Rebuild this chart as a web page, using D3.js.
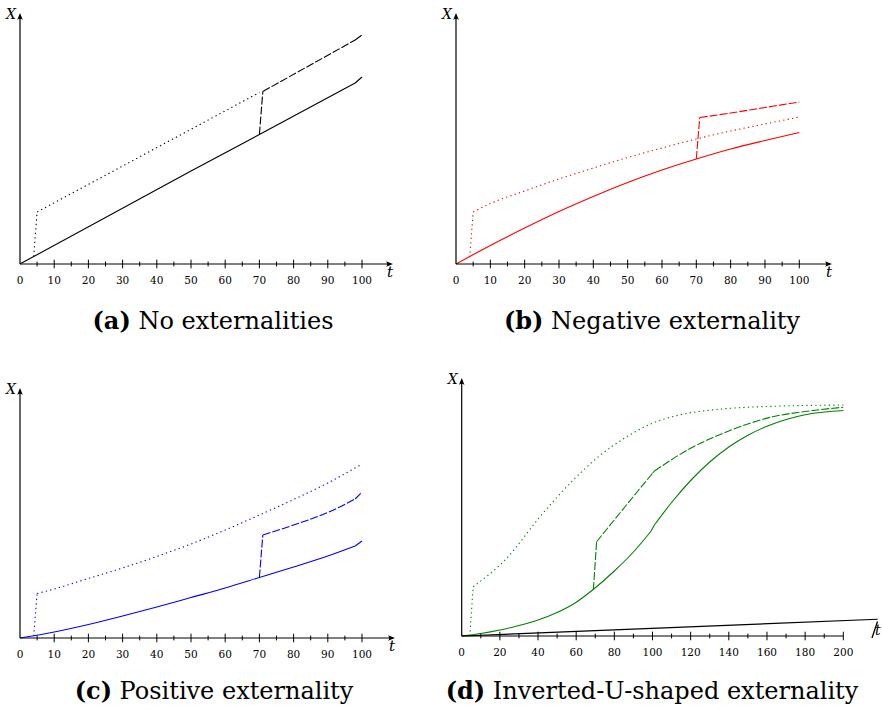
<!DOCTYPE html>
<html>
<head>
<meta charset="UTF-8">
<style>
  body { margin: 0; background: #fff; }
  svg { display: block; }
  .num { font-family: "DejaVu Serif", serif; font-size: 10.5px; }
  .var { font-family: "DejaVu Serif", serif; font-style: italic; }
  .cap { font-family: "DejaVu Serif", serif; font-size: 24px; }
</style>
</head>
<body>
<svg id="fig" width="883" height="710"></svg>
<script src="https://d3js.org/d3.v7.min.js"></script>
<script>
// [t, X] pairs, X in arbitrary units
const noExtSolid  = [[0,0],[50,37.2],[70,51.8],[98,72.4],[100,74.8]];
const noExtDotted = [[4,3],[5,20.8],[70,68.6]];
const noExtDashed = [[70,51.8],[71,69],[98,89.6],[100,91.6]];

const negSolid  = [[0,0],[10,7.4],[20,14.4],[30,21],[40,27],[50,32.6],[60,37.6],[70,42],[80,46],[90,49.4],[100,52.6]];
const negDotted = [[4,2.8],[5,20.8],[10,24.2],[20,29.2],[30,34],[40,38.4],[50,42.6],[60,46.4],[70,50],[80,53.2],[90,56],[100,58.8]];
const negDashed = [[70,42],[71,58.6],[80,60.4],[90,62.6],[100,64.8]];

const posSolid  = [[0,0],[10,2.4],[20,5.4],[30,8.8],[40,12.4],[50,16.2],[60,20],[70,24.2],[80,28.4],[90,32.8],[98,36.8],[100,38.8]];
const posDotted = [[4,0.8],[5,17.8],[10,19.6],[20,23.8],[30,28],[40,32.6],[50,37.6],[60,43.2],[70,49.2],[80,55.4],[90,62],[100,69.6]];
const posDashed = [[70,24.2],[71,41.2],[80,45.2],[90,50.2],[98,55.6],[100,58.4]];

const invSolid  = [[0,0],[10,1],[20,2.4],[30,4.2],[40,6.4],[50,9.4],[59,13],[68.6,18.4],[80,26],[90,33.6],[99,41.7],[101,44.4],[110,53.4],[120,62.2],[130,69.6],[140,75.6],[150,80.3],[160,83.9],[170,86.6],[180,88.5],[190,89.6],[200,90.2]];
const invDotted = [[4.4,1.8],[6,19.7],[23.6,31.1],[41,47.7],[58.5,62.4],[70.7,71.1],[86.5,79.7],[100,85.1],[114,88.4],[135,90.7],[164,91.9],[200,92.4]];
const invDashed = [[69,18.4],[70.7,37.7],[85.6,51.7],[100,65.1],[101,66],[120,75.1],[139,81.7],[163,87.7],[180,89.8],[200,91.5]];
const invTrend  = [[0,0],[218,6.7]];

const letters = ["(a)", "(b)", "(c)", "(d)"];
const titles  = ["No externalities", "Negative externality", "Positive externality", "Inverted-U-shaped externality"];
const colors  = ["black", "red", "blue", "green"];
const tMaxes  = [100, 100, 100, 200];

const panels = [
  {left: 20,    right: 362,   base: 264, top: 13,  arrowX: 393, tcx: 213, tby: 329, major: 10, minor: 5,
   solid: noExtSolid, dotted: noExtDotted, dashed: noExtDashed},
  {left: 456,   right: 799.3, base: 264, top: 13,  arrowX: 832, tcx: 652, tby: 329, major: 10, minor: 5,
   solid: negSolid, dotted: negDotted, dashed: negDashed},
  {left: 20,    right: 362,   base: 638, top: 388, arrowX: 395, tcx: 214, tby: 699, major: 10, minor: 5,
   solid: posSolid, dotted: posDotted, dashed: posDashed},
  {left: 461.7, right: 843.3, base: 636, top: 378, arrowX: null, tcx: 652, tby: 699, major: 20, minor: 10,
   solid: invSolid, dotted: invDotted, dashed: invDashed, extra: invTrend}
];

const svg = d3.select("#fig");

function arrowRight(x, y) {
  return "M" + x + "," + y + "L" + (x - 7) + "," + (y - 2.8) + "Q" + (x - 4.5) + "," + y + " " + (x - 7) + "," + (y + 2.8) + "Z";
}
function arrowUp(x, y) {
  return "M" + x + "," + y + "L" + (x - 2.8) + "," + (y + 7) + "Q" + x + "," + (y + 4.5) + " " + (x + 2.8) + "," + (y + 7) + "Z";
}

// split a series so jumps (short t steps) are straight and the rest is smooth
function pieces(data) {
  let out = [], cur = [data[0]];
  for (let k = 1; k < data.length; k++) {
    const dt = data[k][0] - data[k - 1][0];
    if (dt <= 2) {
      if (cur.length > 1) out.push(cur);
      out.push([data[k - 1], data[k]]);
      cur = [data[k]];
    } else {
      cur.push(data[k]);
    }
  }
  if (cur.length > 1) out.push(cur);
  return out;
}

panels.forEach((p, i) => {
  const tMax = tMaxes[i];
  const x = d3.scaleLinear().domain([0, tMax]).range([p.left, p.right]);
  const y = d3.scaleLinear().domain([0, 100]).range([p.base, p.base - 250]);
  const g = svg.append("g");

  const smooth = d3.line().x(d => x(d[0])).y(d => y(d[1])).curve(d3.curveMonotoneX);
  const straight = d3.line().x(d => x(d[0])).y(d => y(d[1]));

  const styles = [
    {data: p.dotted, dash: "1.3,3.2"},
    {data: p.dashed, dash: "8,2"},
    {data: p.solid,  dash: null}
  ];
  styles.forEach(s => {
    const d = pieces(s.data).map(pc => pc.length > 2 ? smooth(pc) : straight(pc)).join("");
    g.append("path")
      .attr("d", d)
      .attr("fill", "none")
      .attr("stroke", colors[i])
      .attr("stroke-width", 1.1)
      .attr("stroke-dasharray", s.dash);
  });
  if (p.extra) {
    g.append("path")
      .datum(p.extra)
      .attr("d", straight)
      .attr("fill", "none")
      .attr("stroke", "black")
      .attr("stroke-width", 1.2);
  }

  // axes
  const xEnd = p.arrowX ? p.arrowX - 2 : p.right;
  g.append("line")
    .attr("x1", p.left).attr("x2", xEnd)
    .attr("y1", p.base).attr("y2", p.base)
    .attr("stroke", "black").attr("stroke-width", 1.2);
  g.append("line")
    .attr("x1", p.left).attr("x2", p.left)
    .attr("y1", p.base).attr("y2", p.top + 2)
    .attr("stroke", "black").attr("stroke-width", 1.2);
  g.append("path").attr("d", arrowUp(p.left, p.top)).attr("fill", "black");
  if (p.arrowX) {
    g.append("path").attr("d", arrowRight(p.arrowX, p.base)).attr("fill", "black");
  } else {
    // odd slanted arrow tip at the end of the trend line
    g.append("line")
      .attr("x1", 872).attr("y1", 638).attr("x2", 877.5).attr("y2", 621.5)
      .attr("stroke", "black").attr("stroke-width", 1.3);
  }

  // ticks
  const minorT = d3.range(p.minor, tMax + 0.01, p.minor);
  g.selectAll(".tk").data(minorT).enter().append("line")
    .attr("x1", d => x(d)).attr("x2", d => x(d))
    .attr("y1", d => p.base - (d % p.major === 0 ? 4.3 : 2.4))
    .attr("y2", d => p.base + (d % p.major === 0 ? 4.3 : 2.4))
    .attr("stroke", "black").attr("stroke-width", 1);

  g.selectAll(".lbl").data(d3.range(0, tMax + 0.01, p.major)).enter().append("text")
    .attr("class", "num")
    .attr("x", d => x(d))
    .attr("y", p.base + 20)
    .attr("text-anchor", "middle")
    .text(d => d);

  // axis names
  g.append("text")
    .attr("class", "var")
    .attr("x", p.left - 14).attr("y", p.top + 6)
    .style("font-size", "14px")
    .text("X");
  const tX = p.arrowX ? p.arrowX - 6 : 875;
  g.append("text")
    .attr("class", "var")
    .attr("x", tX).attr("y", p.arrowX ? p.base + 13 : p.base - 1)
    .style("font-size", p.arrowX ? "15px" : "14px")
    .text("t");

  // caption
  const cap = g.append("text")
    .attr("class", "cap")
    .attr("x", p.tcx).attr("y", p.tby)
    .attr("text-anchor", "middle");
  cap.append("tspan").attr("font-weight", "bold").text(letters[i]);
  cap.append("tspan").text(" " + titles[i]);
});
</script>
</body>
</html>
